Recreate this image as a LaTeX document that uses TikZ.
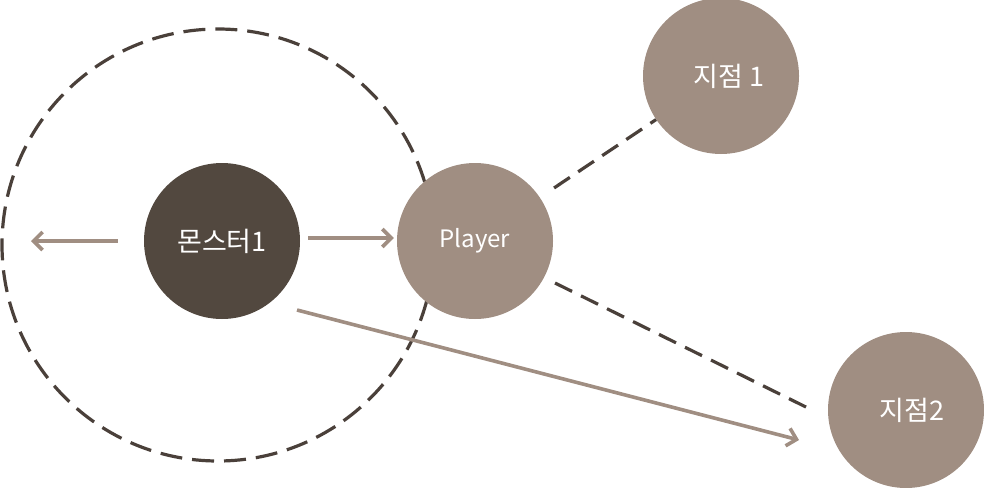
\documentclass[tikz,border=0pt]{standalone}
\usepackage{fontspec}
\setmainfont{Noto Sans CJK KR}
\usetikzlibrary{arrows.meta}
\definecolor{mobdark}{HTML}{52483F}
\definecolor{spotgray}{HTML}{A08E82}
\definecolor{lineDark}{HTML}{4A403A}
\tikzset{
  spot/.style={circle,fill=spotgray,minimum size=156pt,inner sep=0pt,text=white,font=\fontsize{27}{31}\selectfont},
  mob/.style={spot,fill=mobdark},
  moveline/.style={spotgray,line width=3.6pt,-{Straight Barb[length=9pt,width=18pt]}},
  aggro/.style={lineDark,line width=3.2pt,dash pattern=on 19pt off 10pt}
}

\begin{document}
\begin{tikzpicture}[x=1pt,y=-1pt]
    \useasboundingbox (0,0) rectangle (984,487);
    %% aggro range of the monster
    \node [draw=lineDark,line width=3.2pt,dash pattern=on 22pt off 10pt,circle,minimum size=432pt,inner sep=0pt] (range) at (218,245) {};
    %% monster and player
    \node [mob] (mob) at (222,241) {몬스터1};
    \node [spot] (player) at (475,241) {\fontsize{24}{28}\selectfont Player};
    %% spots
    \node [spot] (spotA) at (721,76) {\hspace*{16pt}지점 1};
    \node [spot] (spotB) at (906,410) {\hspace*{12pt}지점2};
    %% free ends
    \coordinate (leftEnd) at (31,241);
    \coordinate (diagStart) at (297,310);
    \coordinate (diagEnd) at (799,440);
    \coordinate (dashStart) at (555,283);
    \coordinate (dashEnd) at (812,410);
    %% moves
    \draw [moveline] ([xshift=-26pt]mob.west) -- (leftEnd);
    \draw [moveline] ([xshift=8pt,yshift=3pt]mob.east) -- ([xshift=-3pt,yshift=3pt]player.west);
    \draw [moveline] (diagStart) -- (diagEnd);
    %% links to the spots
    \draw [aggro,shorten <=17pt] (player) -- (spotA);
    \draw [aggro] (dashStart) -- (dashEnd);
\end{tikzpicture}
\end{document}
